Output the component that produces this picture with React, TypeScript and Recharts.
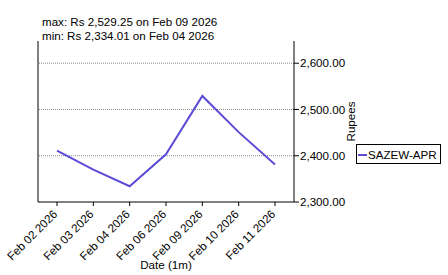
import React from 'react';
import { LineChart, Line, XAxis, YAxis, ReferenceLine, Legend, Customized } from 'recharts';

const dates = ['Feb 02 2026', 'Feb 03 2026', 'Feb 04 2026', 'Feb 06 2026', 'Feb 09 2026', 'Feb 10 2026', 'Feb 11 2026'];
const prices = [2411, 2370, 2334.01, 2403, 2529.25, 2451, 2381];
const yTicks = [2300, 2400, 2500, 2600];
const gridValues = [2400, 2500, 2600];
const seriesName = 'SAZEW-APR';
const titleLines = ['max: Rs 2,529.25 on Feb 09 2026', 'min: Rs 2,334.01 on Feb 04 2026'];

const data = dates.map((d, i) => ({ date: d, price: prices[i] }));

const FONT = '"Liberation Sans", Arial, sans-serif';
const FS = 11.6;
const LINE_COLOR = '#5b4bd6';

const fmt = (v: number) =>
  v.toLocaleString('en-US', { minimumFractionDigits: 2, maximumFractionDigits: 2 });

const XTick = (props: any) => {
  const { x, y, payload } = props;
  const ax = x + 1;
  const ay = y + 7;
  return (
    <text
      x={ax}
      y={ay}
      transform={`rotate(-45, ${ax}, ${ay})`}
      textAnchor="end"
      fontFamily={FONT}
      fontSize={FS}
      fill="#000"
    >
      {payload.value}
    </text>
  );
};

const Titles = () => (
  <g>
    <text x={42} y={26} fontFamily={FONT} fontSize={FS} fill="#000">{titleLines[0]}</text>
    <text x={42} y={40} fontFamily={FONT} fontSize={FS} fill="#000">{titleLines[1]}</text>
  </g>
);

const LegendBox = (props: any) => {
  const { payload } = props;
  return (
    <div>
      {(payload || []).map((p: any) => (
        <div
          key={p.value}
          style={{
            border: '1px solid #000',
            width: 83,
            height: 18,
            position: 'relative',
            background: '#fff',
            fontFamily: FONT,
            fontSize: FS,
            color: '#000',
          }}
        >
          <svg width={10} height={4} style={{ position: 'absolute', left: 1.5, top: 8 }}>
            <line x1={0} y1={2} x2={9} y2={2} stroke={p.color} strokeWidth={2} />
          </svg>
          <span style={{ position: 'absolute', left: 11.5, top: 0, lineHeight: '19px', whiteSpace: 'nowrap' }}>
            {p.value}
          </span>
        </div>
      ))}
    </div>
  );
};

export default function App() {
  return (
    <div style={{ position: 'absolute', left: 0, top: 0, width: 448, height: 275, background: '#fff' }}>
      <LineChart
        width={448}
        height={275}
        data={data}
        margin={{ top: 41, right: 41, bottom: 0, left: 33 }}
      >
        <XAxis
          dataKey="date"
          height={73}
          padding={{ left: 19, right: 19 }}
          tick={<XTick />}
          tickSize={4}
          tickMargin={2}
          interval={0}
          stroke="#000"
          tickLine={{ stroke: '#000' }}
          axisLine={{ stroke: '#000' }}
          label={{
            value: 'Date (1m)',
            position: 'insideBottom',
            offset: 6,
            fontFamily: FONT,
            fontSize: FS,
            fill: '#000',
          }}
        />
        <YAxis
          yAxisId="left"
          orientation="left"
          width={5}
          domain={[2300, 2648]}
          ticks={yTicks}
          tickSize={5}
          tickFormatter={() => ''}
          stroke="#000"
          tickLine={{ stroke: '#000' }}
          axisLine={{ stroke: '#000' }}
        />
        <YAxis
          yAxisId="right"
          orientation="right"
          width={113}
          domain={[2300, 2648]}
          ticks={yTicks}
          tickSize={5}
          tickMargin={1}
          tickFormatter={fmt}
          stroke="#000"
          tickLine={{ stroke: '#000' }}
          axisLine={{ stroke: '#000' }}
          tick={{ fontFamily: FONT, fontSize: FS, fill: '#000' }}
          label={{
            value: 'Rupees',
            angle: -90,
            position: 'center',
            fontFamily: FONT,
            fontSize: FS,
            fill: '#000',
          }}
        />
        {gridValues.map((v) => (
          <ReferenceLine
            key={v}
            yAxisId="right"
            y={v}
            stroke="#888"
            strokeWidth={1}
            strokeDasharray="1 1"
          />
        ))}
        <Line
          yAxisId="right"
          type="linear"
          dataKey="price"
          name={seriesName}
          stroke={LINE_COLOR}
          strokeWidth={2}
          dot={false}
          activeDot={false}
          isAnimationActive={false}
        />
        <Legend
          layout="horizontal"
          align="center"
          verticalAlign="middle"
          content={<LegendBox />}
          wrapperStyle={{ left: 355.5, top: 144.3, width: 'auto', height: 'auto' }}
        />
        <Customized component={Titles} />
      </LineChart>
    </div>
  );
}
